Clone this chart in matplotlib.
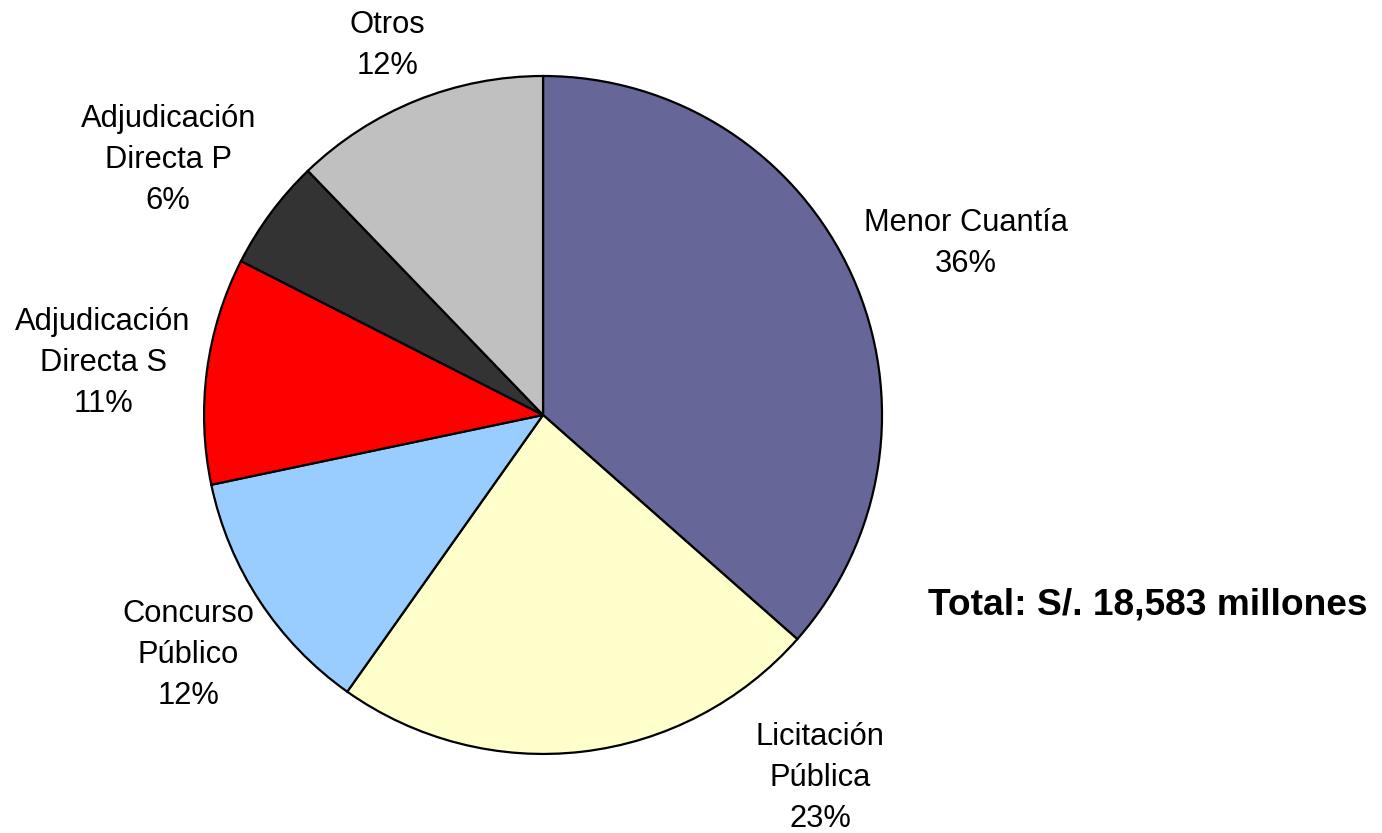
import matplotlib.pyplot as plt

# shares (percent)
categories = ["Menor Cuantía", "Licitación\nPública", "Concurso\nPúblico",
              "Adjudicación\nDirecta S", "Adjudicación\nDirecta P", "Otros"]
shares = [36.5, 23.3, 11.9, 10.8, 5.3, 12.2]
pct_labels = ["36%", "23%", "12%", "11%", "6%", "12%"]
total_text = "Total: S/. 18,583 millones"

colors = ["#666699", "#FFFFCC", "#99CCFF", "#FF0000", "#333333", "#C0C0C0"]
# label centres, in units of the pie radius
label_pos = [(1.248, 0.507), (0.817, -1.072), (-1.047, -0.708),
             (-1.298, 0.153), (-1.106, 0.752), (-0.460, 1.091)]

plt.rcParams['font.family'] = ['Liberation Sans', 'DejaVu Sans']

fig = plt.figure(figsize=(13.82, 8.33), dpi=100)
ax = fig.add_axes([0, 0, 1, 1])

wedges, texts = ax.pie(
    shares,
    labels=[f"{c}\n{p}" for c, p in zip(categories, pct_labels)],
    colors=colors,
    startangle=90,
    counterclock=False,
    radius=1.0,
    wedgeprops=dict(edgecolor='black', linewidth=1.6),
    textprops=dict(fontsize=22.2, ha='center', va='center', linespacing=1.48),
)
for t, (x, y) in zip(texts, label_pos):
    t.set_position((x, y))
    t.set_ha('center')
    t.set_va('center')

ax.text(1.785, -0.560, total_text, fontsize=26.7, fontweight='bold',
        ha='center', va='center')

ax.set_aspect('equal')
ax.set_xlim(-1.602, 2.475)
ax.set_ylim(-1.233, 1.224)
ax.axis('off')

fig.savefig("out.png", dpi=100)
